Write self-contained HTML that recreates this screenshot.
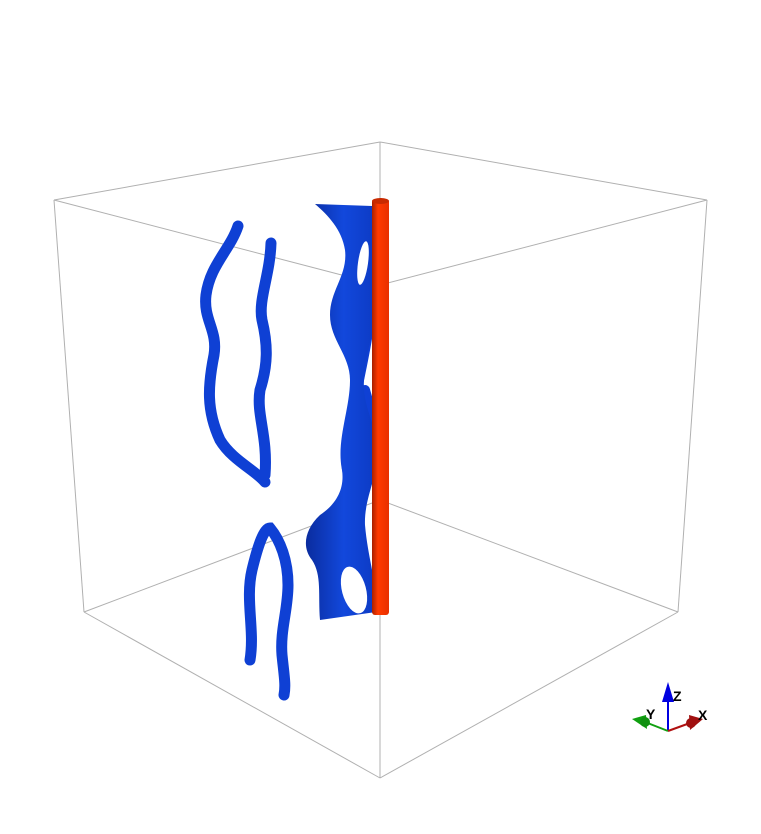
<!DOCTYPE html>
<html><head><meta charset="utf-8"><style>html,body{margin:0;padding:0;background:#fff}svg{display:block}</style></head>
<body>
<svg width="761" height="834" viewBox="0 0 761 834" xmlns="http://www.w3.org/2000/svg">
<defs>
<linearGradient id="bg" x1="0" x2="1" y1="0" y2="0"><stop offset="0" stop-color="#0a2c9e"/><stop offset="0.5" stop-color="#1248dc"/><stop offset="1" stop-color="#0b38c0"/></linearGradient>
<linearGradient id="rg" x1="0" x2="1"><stop offset="0" stop-color="#a82000"/><stop offset="0.35" stop-color="#ff3a00"/><stop offset="1" stop-color="#e83000"/></linearGradient>
</defs>
<g stroke="#b0b0b0" stroke-width="1" fill="none">
<line x1="54" y1="200" x2="380" y2="142"/><line x1="380" y1="142" x2="707" y2="200"/>
<line x1="54" y1="200" x2="380" y2="285"/><line x1="380" y1="285" x2="707" y2="200"/>
<line x1="54" y1="200" x2="84" y2="612"/><line x1="707" y1="200" x2="678" y2="612"/>
<line x1="380" y1="142" x2="380" y2="500"/><line x1="380" y1="285" x2="380" y2="778"/>
<line x1="84" y1="612" x2="380" y2="500"/><line x1="380" y1="500" x2="678" y2="612"/>
<line x1="84" y1="612" x2="380" y2="778"/><line x1="380" y1="778" x2="678" y2="612"/>
</g>
<g fill="none" stroke="#0f40d4" stroke-linecap="round" stroke-width="11">
<path d="M238,226 C230,250 210,265 206,295 C203,320 218,330 214,355 C208,385 206,410 220,440 C232,460 255,470 265,482"/>
<path d="M271,243 C270,275 258,300 262,320 C268,345 268,365 260,390 C256,415 268,435 265,475"/>
<path d="M250,660 C255,630 245,600 252,570 C258,545 264,528 270,528 C280,540 288,560 288,585 C288,610 280,630 282,655 C284,675 286,685 284,695"/>
<path stroke-width="10" d="M350,480 C340,455 350,420 358,385 C365,350 370,330 372,290"/>
<path stroke-width="10" d="M365,470 C378,450 374,420 365,390"/>
</g>
<path fill="url(#bg)" d="M315,204 L372,206 C378,230 383,260 380,300 C376,330 366,345 364,380 C362,410 380,430 378,455 C376,480 364,500 365,525 C368,560 378,585 376,612 L320,620 C318,595 322,575 312,560 C302,548 304,530 320,515 C335,505 345,490 342,470 C336,440 350,410 350,380 C350,355 330,340 330,315 C330,290 348,275 345,250 C342,230 328,215 315,204 Z"/>
<ellipse cx="363" cy="263" rx="5" ry="22" fill="#fff" transform="rotate(8 363 263)"/>
<ellipse cx="354" cy="590" rx="12" ry="24" fill="#fff" transform="rotate(-15 354 590)"/>
<rect x="372" y="199" width="17" height="416" rx="3" fill="url(#rg)"/>
<ellipse cx="380.5" cy="201" rx="8.5" ry="3" fill="#c82a00"/>
<g>
<line x1="668" y1="731" x2="668" y2="696" stroke="#0000e0" stroke-width="2"/>
<polygon points="668,682 662,702 674,702" fill="#0000e0"/>
<text x="673" y="701" font-family="Liberation Sans, sans-serif" font-size="14" font-weight="bold" fill="#000">Z</text>
<line x1="668" y1="731" x2="645" y2="722" stroke="#10a010" stroke-width="2"/>
<polygon points="632,719 646,715 647,729" fill="#10a010"/><circle cx="645" cy="722" r="5" fill="#109010"/>
<text x="646" y="719" font-family="Liberation Sans, sans-serif" font-size="14" font-weight="bold" fill="#000">Y</text>
<line x1="668" y1="731" x2="690" y2="723" stroke="#b01010" stroke-width="2"/>
<polygon points="703,719 689,715 690,730" fill="#a01010"/><circle cx="691" cy="723" r="5" fill="#a01010"/>
<text x="698" y="720" font-family="Liberation Sans, sans-serif" font-size="14" font-weight="bold" fill="#000">X</text>
</g>
</svg>
</body></html>
